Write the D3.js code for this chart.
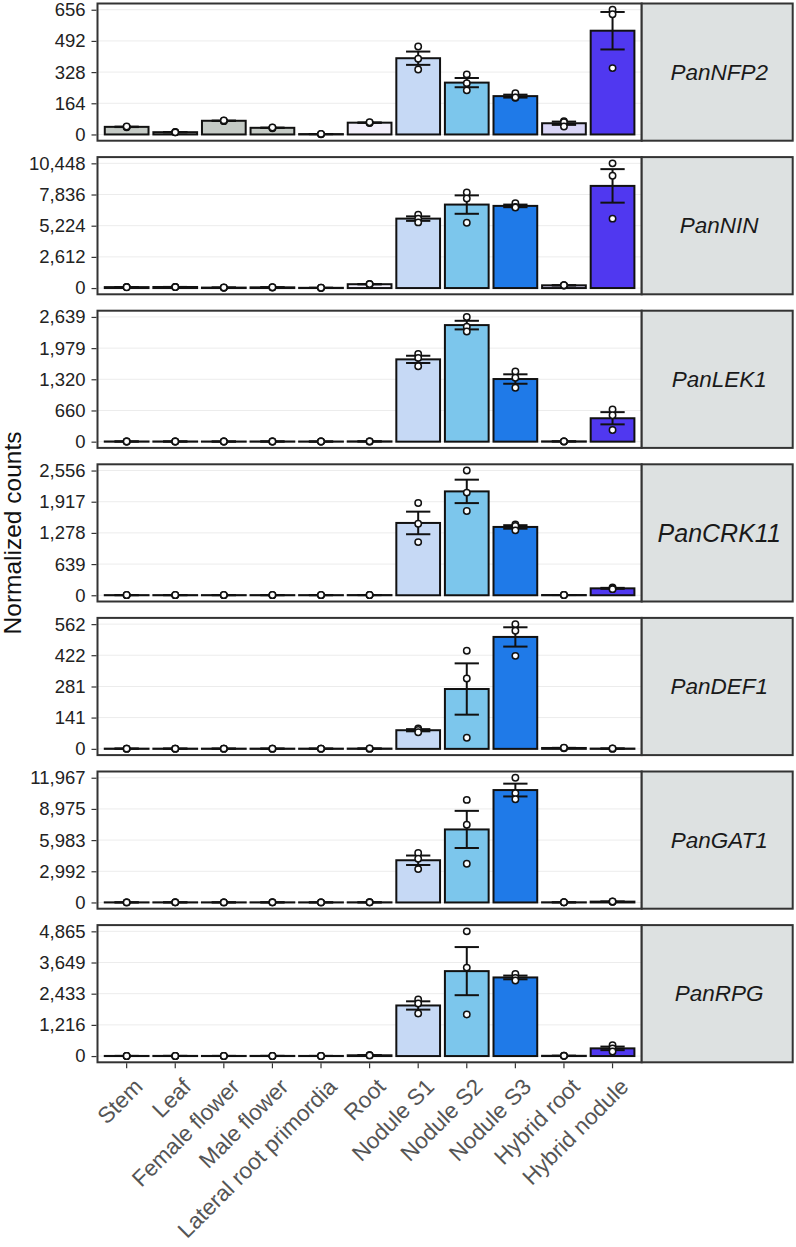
<!DOCTYPE html>
<html>
<head>
<meta charset="utf-8">
<script src="https://cdn.jsdelivr.net/npm/d3@7"></script>
<style>
  html, body { margin: 0; padding: 0; background: #fff; }
  svg { display: block; font-family: "Liberation Sans", Arial, sans-serif; }
</style>
</head>
<body>
<svg id="chart" width="796" height="1247"></svg>
<script>
// ---------------- DATA ----------------
const categories = ["Stem", "Leaf", "Female flower", "Male flower", "Lateral root primordia",
  "Root", "Nodule S1", "Nodule S2", "Nodule S3", "Hybrid root", "Hybrid nodule"];

const genes = ["PanNFP2", "PanNIN", "PanLEK1", "PanCRK11", "PanDEF1", "PanGAT1", "PanRPG"];

// replicate values (3 per tissue), in category order
const nfp2 = [[40, 38, 42], [12, 13, 11], [72, 70, 74], [35, 33, 37], [2, 1, 3], [62, 60, 64],
  [463, 398, 342], [316, 270, 232], [217, 193, 195], [70, 65, 42], [656, 632, 349]];
const nin = [[80, 90, 70], [90, 100, 80], [40, 30, 50], [60, 50, 70], [20, 15, 25], [300, 340, 330],
  [6150, 5800, 5500], [8005, 7500, 5477], [7100, 6800, 6750], [230, 220, 240], [10448, 9412, 5814]];
const lek1 = [[4, 3, 5], [4, 3, 5], [3, 2, 4], [4, 3, 5], [3, 2, 4], [6, 5, 7],
  [1856, 1772, 1596], [2639, 2430, 2330], [1484, 1351, 1141], [6, 5, 7], [680, 560, 246]];
const crk11 = [[3, 2, 4], [3, 2, 4], [3, 2, 4], [3, 2, 4], [3, 2, 4], [4, 3, 5],
  [1890, 1467, 1089], [2556, 2104, 1726], [1450, 1420, 1330], [5, 4, 6], [160, 140, 125]];
const def1 = [[1, 1, 1], [1, 1, 1], [1, 1, 1], [1, 1, 1], [1, 1, 1], [1, 1, 2],
  [92, 85, 75], [442, 317, 50], [562, 532, 419], [4, 3, 5], [1, 1, 2]];
const gat1 = [[10, 12, 8], [12, 14, 10], [10, 12, 8], [12, 14, 10], [10, 12, 8], [14, 16, 12],
  [4750, 4200, 3200], [9842, 7460, 3716], [11967, 10480, 9908], [15, 10, 20], [80, 70, 90]];
const rpg = [[5, 6, 4], [6, 7, 5], [5, 6, 4], [6, 7, 5], [5, 6, 4], [30, 35, 25],
  [2207, 2051, 1662], [4865, 3451, 1623], [3200, 3050, 2950], [10, 12, 8], [420, 300, 180]];

const replicates = [nfp2, nin, lek1, crk11, def1, gat1, rpg];

// y tick labels per panel (max = top of axis)
const ticksNFP2 = [0, 164, 328, 492, 656];
const ticksNIN = [0, 2612, 5224, 7836, 10448];
const ticksLEK1 = [0, 660, 1320, 1979, 2639];
const ticksCRK11 = [0, 639, 1278, 1917, 2556];
const ticksDEF1 = [0, 141, 281, 422, 562];
const ticksGAT1 = [0, 2992, 5983, 8975, 11967];
const ticksRPG = [0, 1216, 2433, 3649, 4865];
const tickSets = [ticksNFP2, ticksNIN, ticksLEK1, ticksCRK11, ticksDEF1, ticksGAT1, ticksRPG];

const yTitle = "Normalized counts";

// ---------------- STYLE / LAYOUT ----------------
const tissueColors = ["#c4cac5", "#c4cac5", "#c4cac5", "#c4cac5", "#c4cac5", "#f2effb",
  "#c6d9f5", "#7cc6ec", "#1f7ae8", "#d9d5f6", "#5038f0"];

const L = 97.5, R = 641.7, stripR = 792.7;
const top0 = 3.5, pStep = 153.6, ph = 137.2;

const svg = d3.select("#chart");

const x = d3.scalePoint().domain(categories).range([L, R]).padding(0.6);
const bw = x.step() * 0.9;
const whisk = x.step() * 0.5;

function mean(a) { return d3.mean(a); }
function se(a) { return d3.deviation(a) / Math.sqrt(a.length); }

genes.forEach((g, i) => {
  const top = top0 + i * pStep;
  const bottom = top + ph;
  const ticks = tickSets[i];
  const ymax = ticks[ticks.length - 1];
  const y = d3.scaleLinear().domain([-0.05 * ymax, 1.05 * ymax]).range([bottom, top]);
  const reps = replicates[i];
  const stats = categories.map((c, j) => ({
    cat: c, m: mean(reps[j]), s: se(reps[j]), pts: reps[j], col: tissueColors[j]
  }));

  const gp = svg.append("g");

  gp.append("rect").attr("x", L).attr("y", top).attr("width", R - L).attr("height", ph)
    .attr("fill", "#fff");

  gp.selectAll("line.grid").data(ticks).join("line")
    .attr("x1", L).attr("x2", R)
    .attr("y1", d => y(d)).attr("y2", d => y(d))
    .attr("stroke", "#ececec").attr("stroke-width", 1);

  gp.selectAll("rect.bar").data(stats).join("rect")
    .attr("x", d => x(d.cat) - bw / 2)
    .attr("width", bw)
    .attr("y", d => y(d.m))
    .attr("height", d => Math.max(0, y(0) - y(d.m)))
    .attr("fill", d => d.col)
    .attr("stroke", "#111").attr("stroke-width", 2);

  const eb = gp.selectAll("g.eb").data(stats).join("g");
  eb.append("line")
    .attr("x1", d => x(d.cat)).attr("x2", d => x(d.cat))
    .attr("y1", d => y(d.m + d.s)).attr("y2", d => y(d.m - d.s))
    .attr("stroke", "#111").attr("stroke-width", 2);
  eb.append("line")
    .attr("x1", d => x(d.cat) - whisk / 2).attr("x2", d => x(d.cat) + whisk / 2)
    .attr("y1", d => y(d.m + d.s)).attr("y2", d => y(d.m + d.s))
    .attr("stroke", "#111").attr("stroke-width", 2);
  eb.append("line")
    .attr("x1", d => x(d.cat) - whisk / 2).attr("x2", d => x(d.cat) + whisk / 2)
    .attr("y1", d => y(d.m - d.s)).attr("y2", d => y(d.m - d.s))
    .attr("stroke", "#111").attr("stroke-width", 2);

  const pts = [];
  stats.forEach(d => d.pts.forEach(v => pts.push({ cat: d.cat, v })));
  gp.selectAll("circle.pt").data(pts).join("circle")
    .attr("cx", d => x(d.cat)).attr("cy", d => y(d.v))
    .attr("r", 3.2)
    .attr("fill", "#fff").attr("stroke", "#111").attr("stroke-width", 1.5);

  gp.append("rect").attr("x", L).attr("y", top).attr("width", R - L).attr("height", ph)
    .attr("fill", "none").attr("stroke", "#333").attr("stroke-width", 2);

  gp.append("rect").attr("x", R).attr("y", top).attr("width", stripR - R).attr("height", ph)
    .attr("fill", "#dde1e1").attr("stroke", "#333").attr("stroke-width", 2);
  gp.append("text")
    .attr("x", (R + stripR) / 2 + 2).attr("y", top + ph / 2)
    .attr("text-anchor", "middle").attr("dominant-baseline", "central")
    .attr("font-style", "italic")
    .attr("font-size", g === "PanCRK11" ? 25 : 22.5)
    .attr("fill", "#1a1a1a")
    .text(g);

  const ax = gp.append("g").attr("transform", `translate(${L - 1},0)`)
    .call(d3.axisLeft(y).tickValues(ticks).tickSize(5).tickPadding(6).tickFormat(d3.format(",")));
  ax.select(".domain").remove();
  ax.selectAll(".tick line").attr("stroke", "#333").attr("stroke-width", 1.2);
  ax.selectAll(".tick text").attr("font-size", 18.5).attr("fill", "#222")
    .attr("font-family", "Liberation Sans, Arial, sans-serif");

  if (i === genes.length - 1) {
    const xa = gp.append("g").attr("transform", `translate(0,${bottom + 1})`);
    xa.selectAll("line").data(categories).join("line")
      .attr("x1", d => x(d)).attr("x2", d => x(d))
      .attr("y1", 0).attr("y2", 5)
      .attr("stroke", "#333").attr("stroke-width", 1.2);
    xa.selectAll("text").data(categories).join("text")
      .attr("transform", d => `translate(${x(d) + 6},${13.5}) rotate(-45)`)
      .attr("text-anchor", "end")
      .attr("dy", "0.71em")
      .attr("font-size", 22.5)
      .attr("fill", "#555")
      .text(d => d);
  }
});

svg.append("text")
  .attr("transform", `translate(21,533) rotate(-90)`)
  .attr("text-anchor", "middle")
  .attr("font-size", 24.5)
  .attr("fill", "#111")
  .text(yTitle);
</script>
</body>
</html>
